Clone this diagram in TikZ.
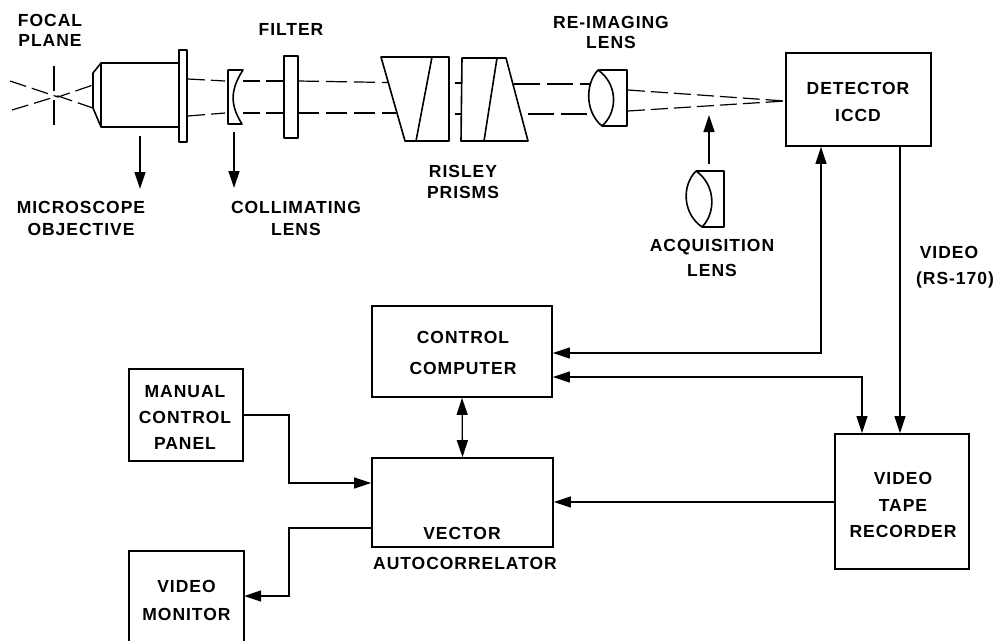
\documentclass[tikz,border=0pt]{standalone}
\usepackage{fontspec}
\setmainfont{Liberation Sans}[LetterSpace=5.5]
\usetikzlibrary{arrows.meta}
\tikzset{
  lab/.style={font=\bfseries\fontsize{17.5}{#1}\selectfont,align=center,inner sep=0pt,text=black},
  lab/.default=21,
  blockbox/.style={draw,line width=1.7pt,inner sep=0pt},
  optic/.style={line width=1.6pt,line join=round},
  conn/.style={line width=1.3pt,line join=miter},
  ray/.style={line width=1.2pt,dash pattern=on 17pt off 6pt},
  tip/.style={-{Triangle[length=17pt,width=11pt]}},
  tips/.style={{Triangle[length=17pt,width=11pt]}-{Triangle[length=17pt,width=11pt]}}
}
\begin{document}
\begin{tikzpicture}[x=1pt,y=-1pt]
\useasboundingbox (0,0) rectangle (998,640);
% block boxes
\node[blockbox,minimum width=145pt,minimum height=93pt] (det) at (858.5,99.5) {};
\node[blockbox,minimum width=180pt,minimum height=91pt] (ctrl) at (462,351.5) {};
\node[blockbox,minimum width=181pt,minimum height=89pt] (vec) at (462.5,502.5) {};
\node[blockbox,minimum width=114pt,minimum height=92pt] (man) at (186,415) {};
\node[blockbox,minimum width=134pt,minimum height=135pt] (vtr) at (902,501.5) {};
\node[minimum width=115pt,minimum height=92pt,inner sep=0pt] (mon) at (186.5,597) {};
\draw[line width=1.7pt] (mon.south west) -- (mon.north west) -- (mon.north east) -- (mon.south east);
% block labels
\node[lab=26.5] (tdet) at (858,102) {DETECTOR\\ICCD};
\node[lab=31] (tctrl) at (463,353) {CONTROL\\COMPUTER};
\node[lab=26] (tman) at (185,417) {MANUAL\\CONTROL\\PANEL};
\node[lab=28] (tmon) at (186.5,600) {VIDEO\\MONITOR};
\node[lab=26.5] (tvtr) at (903,505) {VIDEO\\TAPE\\RECORDER};
\node[lab] (tvec) at (462,533) {VECTOR};
\node[lab] (tauto) at (465,563) {AUTOCORRELATOR};
% optics labels
\node[lab=20] (tfocal) at (50,30) {FOCAL\\PLANE};
\node[lab] (tfilter) at (291,29) {FILTER};
\node[lab=22] (tmicro) at (81,218) {MICROSCOPE\\OBJECTIVE};
\node[lab=22] (tcoll) at (296,218) {COLLIMATING\\LENS};
\node[lab=21] (trisley) at (463,182) {RISLEY\\PRISMS};
\node[lab=20] (tre) at (611,32) {RE-IMAGING\\LENS};
\node[lab=25] (tacq) at (712,258) {ACQUISITION\\LENS};
\node[lab=26] (tvideo) at (955,267) {\hspace*{-12pt}VIDEO\\(RS-170)};
% connectors
\draw[conn,tips] (det.south -| 821,0) -- (821,353) -- (ctrl.east |- 0,353);
\draw[conn,tips] (ctrl.east |- 0,377) -- (862,377) -- (vtr.north -| 862,0);
\draw[conn,tip] (det.south -| 900,0) -- (vtr.north -| 900,0);
\draw[conn,tip] (vtr.west |- 0,502) -- (vec.east |- 0,502);
\draw[conn,tips] (ctrl.south) -- (vec.north);
\draw[conn,tip] (man.east) -- (289,415) -- (289,483) -- (vec.west |- 0,483);
\draw[conn,tip] (vec.west |- 0,528) -- (289,528) -- (289,596) -- (mon.east |- 0,596);
% leader arrows
\coordinate (objA) at (140,136); \coordinate (objB) at (140,189);
\coordinate (colA) at (234,132); \coordinate (colB) at (234,188);
\coordinate (acqA) at (709,164); \coordinate (acqB) at (709,115);
\draw[conn,tip] (objA) -- (objB);
\draw[conn,tip] (colA) -- (colB);
\draw[conn,tip] (acqA) -- (acqB);
% focal plane
\draw[line width=1.2pt,dash pattern=on 25pt off 9pt] (54,66) -- (54,128);
\draw[ray] (10,81) -- (58,97) -- (93,85);
\draw[ray] (12,110) -- (58,96) -- (93,108);
% objective
\draw[optic] (178,63) -- (101,63) -- (93,73) -- (93,108) -- (101,127) -- (178,127);
\draw[optic] (101,63) -- (101,127);
\draw[optic] (179,50) rectangle (187,142);
% rays
\draw[ray] (188,79) -- (225,81);
\draw[ray] (188,116) -- (225,113);
\draw[ray] (243,81) -- (284,81);
\draw[ray] (243,113) -- (284,113);
\draw[ray,dash pattern=on 21pt off 7pt] (298,81) -- (388,82.5);
\draw[ray,dash pattern=on 21pt off 7pt] (298,113) -- (396,113);
\draw[line width=1.2pt] (455,83) -- (462,83);
\draw[line width=1.2pt] (455,114) -- (461,114);
\draw[ray,dash pattern=on 26pt off 7pt] (514,84) -- (590,84);
\draw[ray,dash pattern=on 26pt off 7pt] (528,114) -- (591,114);
\draw[ray] (628,90) -- (785,101);
\draw[ray] (628,111) -- (785,101);
% collimating lens
\draw[optic] (228,70) -- (243,70) .. controls (230,90) and (230,105) .. (242,124) -- (228,124) -- cycle;
% filter
\draw[optic] (284,56) rectangle (298,138);
% prisms
\draw[optic] (381,57) -- (449,57) -- (449,141) -- (405,141) -- cycle;
\draw[optic] (432,57) -- (416,141);
\draw[optic] (462,58) -- (506,58) -- (528,141) -- (461,141) -- cycle;
\draw[optic] (497,58) -- (484,141);
% re-imaging lens
\draw[optic] (598,70) .. controls (585,84) and (585,112) .. (602,126) .. controls (618,112) and (618,84) .. (598,70);
\draw[optic] (598,70) -- (627,70) -- (627,126) -- (602,126);
% acquisition lens
\draw[optic] (696,171) .. controls (682,185) and (682,213) .. (702,227) .. controls (716,213) and (716,185) .. (696,171);
\draw[optic] (696,171) -- (724,171) -- (724,227) -- (702,227);
\end{tikzpicture}
\end{document}
